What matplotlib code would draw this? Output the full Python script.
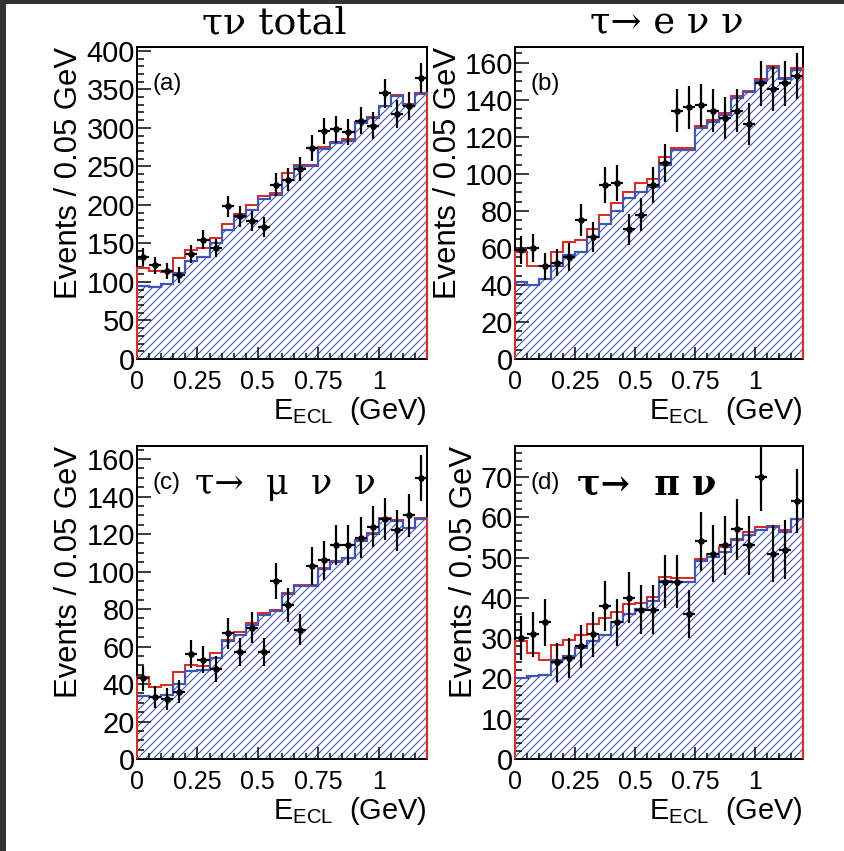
import matplotlib
matplotlib.use('Agg')
import matplotlib.pyplot as plt
import numpy as np
from matplotlib.patches import Rectangle
from matplotlib.ticker import MultipleLocator, FixedLocator

plt.rcParams['font.family'] = ['Liberation Sans', 'DejaVu Sans']
plt.rcParams['mathtext.fontset'] = 'custom'
plt.rcParams['mathtext.rm'] = 'Liberation Sans'
plt.rcParams['hatch.linewidth'] = 1.1

# bins de 0.05 GeV entre 0 et 1.2 GeV
bords = np.linspace(0, 1.2, 25)
centres = 0.5 * (bords[:-1] + bords[1:])

# (a) total
donnees_a = [132, 122, 114, 109, 136, 155, 144, 198, 185, 179, 171, 226,
             233, 247, 274, 296, 298, 295, 309, 303, 345, 318, 329, 365]
fond_a = [95, 93, 98, 112, 127, 133, 151, 168, 184, 194, 208, 213,
          232, 250, 250, 273, 280, 283, 306, 313, 328, 342, 330, 344]
total_a = [118, 114, 113, 131, 142, 144, 157, 175, 188, 200, 211, 216,
           242, 252, 252, 275, 282, 285, 308, 314, 329, 343, 331, 345]

# (b) tau -> e nu nu
donnees_b = [59, 60, 50, 52, 55, 75, 66, 94, 95, 70, 78, 94,
             106, 134, 136, 137, 134, 130, 134, 127, 149, 146, 149, 153]
fond_b = [41.5, 40, 43, 50, 56, 58, 66, 73, 80, 87, 90, 93,
          105, 113, 113, 125, 128, 132, 141, 144, 150, 157, 151, 156]
total_b = [58, 50, 50, 58, 63, 64, 70, 78, 84, 90, 95, 97,
           109, 114, 114, 126, 129, 133, 142, 145, 151, 158, 152, 157]

# (c) tau -> mu nu nu
donnees_c = [43, 33, 32, 36, 56, 53, 48, 67, 57, 70, 57, 95,
             82, 69, 103, 106, 114, 114, 118, 124, 128, 122, 130, 150]
fond_c = [33.7, 33, 34, 40, 47, 47.5, 54, 62.7, 66, 71.7, 77, 79,
          88, 92.3, 92.3, 101.3, 105, 107, 116.5, 120, 128, 127, 123, 128]
total_c = [44, 38.5, 39.4, 46.6, 50.2, 49.8, 56.5, 63.6, 67.7, 72.6, 78, 79.5,
           88.7, 93, 93, 102, 105.5, 107.5, 117, 120.5, 128.5, 127.5, 123.5, 128.5]

# (d) tau -> pi nu
donnees_d = [30, 31, 34, 24, 25, 28, 31, 38, 34, 40, 37, 37,
             44, 44, 36, 54, 51, 53, 57, 53, 70, 51, 52, 64]
fond_d = [20, 20.6, 20.9, 24.6, 25.5, 27.6, 29.2, 30.9, 34, 35.9, 37.2, 39.3,
          44.1, 43.9, 43.9, 49.1, 50.1, 51.4, 54.3, 55.6, 56.8, 57.5, 56.4, 59.7]
total_d = [29.2, 26.3, 24.6, 28.4, 29.5, 30.9, 33.6, 35.1, 36.6, 38.6, 38.8, 40.1,
           45.3, 44.9, 44.9, 49.7, 51, 52.6, 54.7, 56.4, 57.5, 57.8, 56.8, 59.7]

bleu = '#3f55bb'
rouge = '#e8281e'

fig = plt.figure(figsize=(844 / 72, 851 / 72), dpi=72)
W, H = 844.0, 851.0


def cadre(x0, y0, x1, y1):
    return [x0 / W, 1 - y1 / H, (x1 - x0) / W, (y1 - y0) / H]


def panneau(rect, donnees, fond, total, ymax, maj, mineur, lettre):
    ax = fig.add_axes(rect)
    ax.stairs(fond, bords, fill=True, facecolor='white', edgecolor=bleu,
              linewidth=0, hatch='///', zorder=1)
    ax.stairs(total, bords, color=rouge, linewidth=2, baseline=0,
              zorder=3, clip_on=False)
    ax.stairs(fond, bords, color=bleu, linewidth=2.2, baseline=None, zorder=3.1)
    d = np.array(donnees, dtype=float)
    ax.errorbar(centres, d, xerr=0.025, yerr=np.sqrt(d), fmt='o', ms=5.5,
                color='black', elinewidth=2.2, capsize=0, zorder=4)
    ax.set_xlim(0, 1.2)
    ax.set_ylim(0, ymax)
    ax.xaxis.set_major_locator(FixedLocator([0, 0.25, 0.5, 0.75, 1]))
    ax.set_xticklabels(['0', '0.25', '0.5', '0.75', '1'])
    ax.xaxis.set_minor_locator(MultipleLocator(0.05))
    ax.yaxis.set_major_locator(MultipleLocator(maj))
    ax.yaxis.set_minor_locator(MultipleLocator(mineur))
    ax.tick_params(axis='y', which='major', direction='in', length=14, width=1.5,
                   labelsize=29, pad=2)
    ax.tick_params(axis='y', which='minor', direction='in', length=7, width=1.5)
    ax.tick_params(axis='x', which='major', direction='in', length=12, width=1.5,
                   labelsize=25, pad=11)
    ax.tick_params(axis='x', which='minor', direction='in', length=6, width=1.5)
    for s in ax.spines.values():
        s.set_linewidth(2)
    ax.set_ylabel('Events / 0.05 GeV', fontsize=31, loc='top', labelpad=2)
    ax.set_xlabel(r'E$_{\mathrm{ECL}}$  (GeV)', fontsize=29, loc='right', labelpad=1)
    ax.text(0.054, 0.883, lettre, transform=ax.transAxes, fontsize=24,
            va='center', ha='left', zorder=5)
    return ax


ax_a = panneau(cadre(137, 47, 427, 359), donnees_a, fond_a, total_a, 405, 50, 10, '(a)')
ax_b = panneau(cadre(515, 47, 803, 359), donnees_b, fond_b, total_b, 168.5, 20, 5, '(b)')
ax_c = panneau(cadre(137, 446, 427, 759), donnees_c, fond_c, total_c, 167, 20, 5, '(c)')
ax_d = panneau(cadre(515, 446, 803, 759), donnees_d, fond_d, total_d, 77.7, 10, 2, '(d)')

serif = ['DejaVu Serif']
ax_a.text(0.472, 1.075, 'τν total', transform=ax_a.transAxes, fontsize=38,
          ha='center', va='center', family=serif)
ax_b.text(0.528, 1.075, 'τ→ e ν ν', transform=ax_b.transAxes, fontsize=37,
          ha='center', va='center', family=serif)
ax_c.text(0.2, 0.88, 'τ→  μ  ν  ν', transform=ax_c.transAxes, fontsize=35,
          ha='left', va='center', family=serif, zorder=5)
ax_d.text(0.215, 0.88, 'τ→  π ν', transform=ax_d.transAxes, fontsize=35,
          ha='left', va='center', family=serif, fontweight='bold', zorder=5)

# bordure sombre de la capture
fig.add_artist(Rectangle((0, 0), 5 / W, 1, transform=fig.transFigure,
                         color='#333333', zorder=10))
fig.add_artist(Rectangle((0, 1 - 3 / H), 1, 3 / H, transform=fig.transFigure,
                         color='#333333', zorder=10))

fig.savefig('out.png', dpi=72)
